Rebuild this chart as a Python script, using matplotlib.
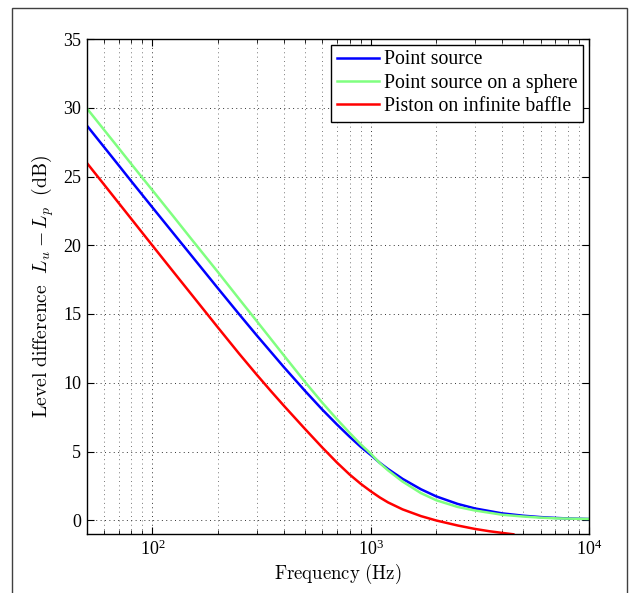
import matplotlib
matplotlib.use("Agg")
import matplotlib.pyplot as plt
from matplotlib.patches import Rectangle
from matplotlib.ticker import LogLocator, LogFormatterSciNotation, NullFormatter

# ---- data ----
freq = [50, 60, 70, 80, 100, 125, 150, 200, 250, 300, 400, 500, 600, 700, 800, 900,
        1000, 1100, 1200, 1400, 1700, 2000, 2500, 3000, 4000, 5000, 6000, 7000, 8000, 10000]
point_source = [28.72, 27.15, 25.82, 24.66, 22.75, 20.85, 19.30, 16.85, 14.97, 13.46, 11.14,
                9.41, 8.05, 6.97, 6.08, 5.34, 4.75, 4.18, 3.73, 3.01, 2.25, 1.73, 1.19, 0.86,
                0.50, 0.33, 0.23, 0.17, 0.13, 0.09]
sphere = [29.97, 28.40, 27.07, 25.91, 24.00, 22.08, 20.50, 18.03, 16.08, 14.50, 11.99, 10.06,
          8.55, 7.35, 6.36, 5.52, 4.85, 4.16, 3.63, 2.81, 1.97, 1.45, 0.97, 0.71, 0.40, 0.27,
          0.19, 0.14, 0.12, 0.09]
freq_piston = [50, 60, 70, 80, 100, 125, 150, 200, 250, 300, 350, 400, 500, 600, 700, 800, 900,
               1000, 1100, 1200, 1400, 1700, 2000, 2500, 3000, 3500, 4000, 4500]
piston = [26.0, 24.42, 23.08, 21.92, 19.98, 18.05, 16.48, 14.0, 12.10, 10.60, 9.37, 8.33, 6.64,
          5.29, 4.20, 3.33, 2.65, 2.11, 1.66, 1.30, 0.79, 0.3, -0.02, -0.38, -0.63, -0.8, -0.92,
          -1.02]
labels = ["Point source", "Point source on a sphere", "Piston on infinite baffle"]
colors = ["#0000ff", "#80ff80", "#ff0000"]
yticks = [0, 5, 10, 15, 20, 25, 30, 35]

plt.rcParams["font.family"] = ["Liberation Serif", "DejaVu Serif"]
plt.rcParams["mathtext.fontset"] = "custom"
plt.rcParams["mathtext.rm"] = "Liberation Serif"
plt.rcParams["mathtext.it"] = "Liberation Serif:italic"

fig = plt.figure(figsize=(6.30, 5.93), dpi=100)
ax = fig.add_axes([86.7 / 630, 1 - 534 / 593, (589 - 86.7) / 630, (534 - 39) / 593])

ax.plot(freq, point_source, color=colors[0], lw=1.8, label=labels[0])
ax.plot(freq, sphere, color=colors[1], lw=1.8, label=labels[1])
ax.plot(freq_piston, piston, color=colors[2], lw=1.8, label=labels[2])

ax.set_xscale("log")
ax.set_xlim(50, 1e4)
ax.set_ylim(-1, 35)
ax.set_yticks(yticks)
ax.xaxis.set_major_locator(LogLocator(base=10, numticks=10))
ax.xaxis.set_major_formatter(LogFormatterSciNotation())
ax.xaxis.set_minor_locator(LogLocator(base=10, subs=range(2, 10), numticks=20))
ax.xaxis.set_minor_formatter(NullFormatter())

ax.tick_params(which="both", direction="in", top=True, right=True, labelsize=13, pad=4)
ax.tick_params(which="major", length=5, width=0.8)
ax.tick_params(which="minor", length=3, width=0.6)
for s in ax.spines.values():
    s.set_linewidth(1.0)

ax.grid(True, which="major", axis="both", linestyle=(0, (1, 3.5)), color="#333333", linewidth=0.7)
ax.grid(True, which="minor", axis="x", linestyle=(0, (1, 3.5)), color="#777777", linewidth=0.7)
ax.set_axisbelow(True)

ax.set_xlabel(r"$\mathrm{Frequency\ (Hz)}$", fontsize=13.5, math_fontfamily="cm", labelpad=2)
ax.set_ylabel(r"$\mathrm{Level\ difference}\ \ L_u - L_p\ \ \mathrm{(dB)}$", fontsize=14.2,
              math_fontfamily="cm", labelpad=5)

leg = ax.legend(loc="upper right", fontsize=14.2, frameon=True, fancybox=False,
                edgecolor="black", framealpha=1, borderaxespad=0.3, borderpad=0.28,
                handlelength=2.15, handletextpad=0.25, labelspacing=0.22)
leg.get_frame().set_linewidth(1.0)

fig.add_artist(Rectangle((12 / 630, -0.05), (627 - 12) / 630, 1 - 7.5 / 593 + 0.05,
                         transform=fig.transFigure, fill=False, edgecolor="#404040", lw=1.0))

fig.savefig("out.png", dpi=100)
